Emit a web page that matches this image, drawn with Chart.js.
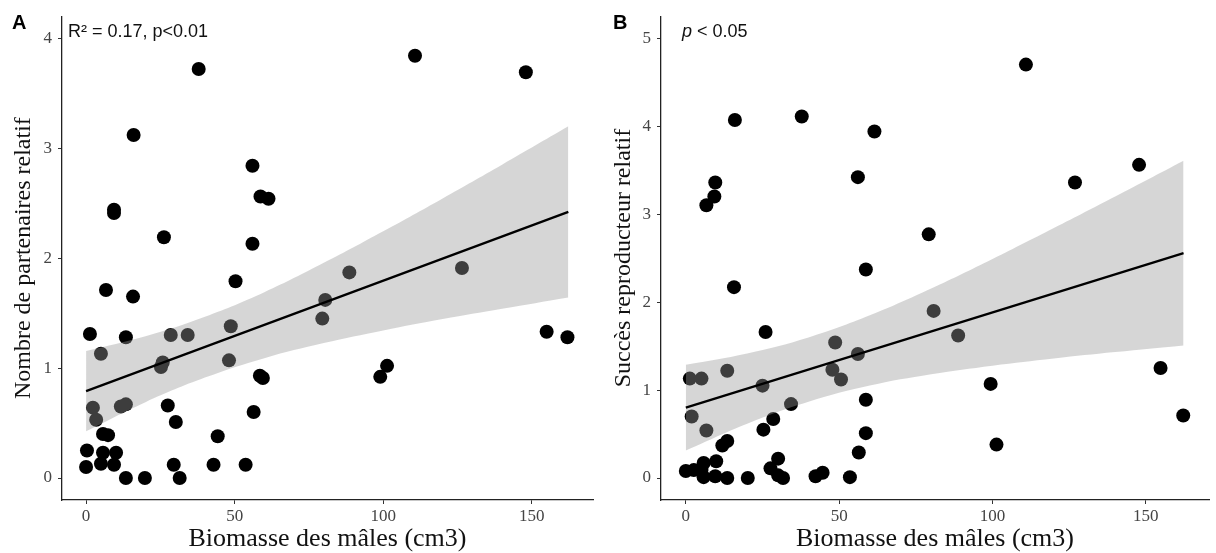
<!DOCTYPE html>
<html>
<head>
<meta charset="utf-8">
<script src="https://cdn.jsdelivr.net/npm/chart.js@4.4.1/dist/chart.umd.min.js"></script>
<style>
  html, body { margin: 0; padding: 0; background: #fff; }
  .wrap { position: relative; width: 1216px; height: 553px; }
  .panel { position: absolute; top: 0; width: 608px; height: 553px; }
</style>
</head>
<body>
<div class="wrap">
  <div class="panel" style="left:0"><canvas id="chartA" width="608" height="553"></canvas></div>
  <div class="panel" style="left:608px"><canvas id="chartB" width="608" height="553"></canvas></div>
</div>
<script>
// biomass (cm3) vs relative number of partners (A) and relative reproductive success (B)
const biomassA = [37.9, 16.0, 56.0, 58.7, 61.4, 9.4, 9.4, 26.2, 56.0, 50.3, 6.7, 15.8, 1.3, 13.4, 5.0, 28.5, 34.2,
  48.7, 48.1, 25.8, 25.2, 58.5, 59.5, 2.3, 11.7, 13.4, 3.4, 27.5, 30.2, 56.4, 5.7, 7.4, 44.3, 0.3, 5.7, 10.1,
  0.0, 5.0, 9.4, 29.5, 42.9, 53.7, 13.4, 19.8, 31.5, 110.7, 148.0, 88.6, 126.5, 80.5, 79.5, 101.3, 99.0, 155.0, 162.0];
const partners = [3.72, 3.12, 2.84, 2.56, 2.54, 2.44, 2.41, 2.19, 2.13, 1.79, 1.71, 1.65, 1.31, 1.28, 1.13, 1.30, 1.30,
  1.38, 1.07, 1.05, 1.01, 0.93, 0.91, 0.64, 0.65, 0.67, 0.53, 0.66, 0.51, 0.60, 0.40, 0.39, 0.38, 0.25, 0.23, 0.23,
  0.10, 0.13, 0.12, 0.12, 0.12, 0.12, 0.0, 0.0, 0.0, 3.84, 3.69, 1.87, 1.91, 1.62, 1.45, 1.02, 0.92, 1.33, 1.28];

const biomassB = [16.0, 37.8, 61.5, 56.1, 9.6, 9.3, 6.7, 58.7, 110.9, 147.8, 126.9, 79.2, 15.7, 26.0, 48.7, 56.1, 47.8,
  50.6, 13.5, 1.3, 5.1, 25.0, 34.3, 1.9, 28.5, 58.7, 6.7, 25.3, 58.7, 11.9, 13.5, 56.4, 9.9, 30.1, 0.0, 2.6, 5.8,
  5.1, 5.8, 9.6, 13.5, 20.2, 27.6, 30.1, 31.7, 42.3, 44.6, 53.5, 80.8, 88.8, 99.4, 101.3, 154.8, 162.2];
const success = [4.07, 4.11, 3.94, 3.42, 3.36, 3.20, 3.10, 2.37, 4.70, 3.56, 3.36, 2.77, 2.17, 1.66, 1.54, 1.41, 1.23,
  1.12, 1.22, 1.13, 1.13, 1.05, 0.84, 0.70, 0.67, 0.89, 0.54, 0.55, 0.51, 0.37, 0.42, 0.29, 0.19, 0.22, 0.08, 0.09, 0.17,
  0.09, 0.01, 0.02, 0.0, 0.0, 0.11, 0.03, 0.0, 0.02, 0.06, 0.01, 1.90, 1.62, 1.07, 0.38, 1.25, 0.71];

// fitted line and 95% band
const fitX = [0, 162.3];
const fitA = [0.79, 2.42];
const fitB = [0.80, 2.557];
const bandX = [0, 20, 40, 60, 80, 100, 120, 140, 162.3];
const bandLowA = [0.425, 0.69, 0.913, 1.09, 1.227, 1.342, 1.445, 1.539, 1.642];
const bandHighA = [1.155, 1.29, 1.467, 1.69, 1.957, 2.244, 2.543, 2.849, 3.198];
const bandLowB = [0.313, 0.618, 0.868, 1.051, 1.179, 1.277, 1.359, 1.432, 1.507];
const bandHighB = [1.287, 1.416, 1.598, 1.849, 2.153, 2.489, 2.841, 3.20, 3.607];

const xTicks = [0, 50, 100, 150];
const yTicksA = [0, 1, 2, 3, 4];
const yTicksB = [0, 1, 2, 3, 4, 5];

const serif = '"Liberation Serif", "Times New Roman", serif';
const sans = '"Liberation Sans", Arial, sans-serif';

const pts = (xs, ys) => xs.map((x, i) => ({ x, y: ys[i] }));

const panelText = {
  id: 'panelText',
  afterDatasetsDraw(chart, args, o) {
    const ctx = chart.ctx;
    ctx.save();
    ctx.fillStyle = '#000';
    ctx.textBaseline = 'alphabetic';
    ctx.font = 'bold 20px ' + sans;
    ctx.fillText(o.letter, o.letterX, 29);
    ctx.fillStyle = '#111';
    let x = o.noteX;
    if (o.italic) {
      ctx.font = 'italic 18px ' + sans;
      ctx.fillText(o.italic, x, 37);
      x += ctx.measureText(o.italic).width;
    }
    ctx.font = '18px ' + sans;
    ctx.fillText(o.note, x, 37);
    ctx.restore();
  }
};

function makePanel(id, p) {
  return new Chart(document.getElementById(id), {
    type: 'scatter',
    data: {
      datasets: [
        { type: 'line', data: pts(fitX, p.fit), borderColor: '#000', borderWidth: 2.3, pointRadius: 0, fill: false, order: 0 },
        { type: 'line', data: pts(bandX, p.high), borderColor: 'rgba(0,0,0,0)', borderWidth: 0, pointRadius: 0,
          tension: 0.4, fill: '+1', backgroundColor: 'rgba(153,153,153,0.4)', order: 1 },
        { type: 'line', data: pts(bandX, p.low), borderColor: 'rgba(0,0,0,0)', borderWidth: 0, pointRadius: 0,
          tension: 0.4, fill: false, order: 1 },
        { data: pts(p.xs, p.ys), backgroundColor: '#000', borderWidth: 0, pointRadius: 7, order: 2 },
      ],
    },
    options: {
      responsive: false,
      animation: false,
      events: [],
      layout: { padding: { top: 8, right: p.padRight, left: 0, bottom: 0 } },
      plugins: {
        legend: { display: false },
        tooltip: { enabled: false },
        panelText: p.text,
      },
      scales: {
        x: {
          type: 'linear', min: -8.1, max: 170.6,
          afterBuildTicks: (s) => { s.ticks = xTicks.map((v) => ({ value: v })); },
          afterFit: (s) => { s.height = 53; },
          grid: { drawOnChartArea: false, drawTicks: true, tickLength: 4, color: '#333' },
          border: { display: true, color: '#222', width: 1.3 },
          ticks: { color: '#444', font: { family: serif, size: 17 }, padding: 2, maxRotation: 0 },
          title: { display: true, text: 'Biomasse des mâles (cm3)', color: '#111',
            font: { family: serif, size: 26 }, padding: { top: 0, bottom: -2 } },
        },
        y: {
          type: 'linear', min: p.yMin, max: p.yMax,
          afterBuildTicks: (s) => { s.ticks = p.yTicks.map((v) => ({ value: v })); },
          afterFit: (s) => { s.width = p.axisW; },
          grid: { drawOnChartArea: false, drawTicks: true, tickLength: 4, color: '#333' },
          border: { display: true, color: '#222', width: 1.3 },
          ticks: { color: '#444', font: { family: serif, size: 17 }, padding: 6 },
          title: { display: true, text: p.yTitle, color: '#111',
            font: { family: serif, size: 24 }, padding: { top: p.titlePad, bottom: 0 } },
        },
      },
    },
    plugins: [panelText],
  });
}

makePanel('chartA', {
  xs: biomassA, ys: partners, fit: fitA, low: bandLowA, high: bandHighA,
  yMin: -0.2, yMax: 4.2, yTicks: yTicksA, axisW: 62, padRight: 15, titlePad: 9,
  yTitle: 'Nombre de partenaires relatif',
  text: { letter: 'A', letterX: 12, noteX: 68, note: 'R² = 0.17, p<0.01' },
});

makePanel('chartB', {
  xs: biomassB, ys: success, fit: fitB, low: bandLowB, high: bandHighB,
  yMin: -0.25, yMax: 5.25, yTicks: yTicksB, axisW: 53, padRight: 0, titlePad: 1,
  yTitle: 'Succès reproducteur relatif',
  text: { letter: 'B', letterX: 5, noteX: 74, italic: 'p', note: ' < 0.05' },
});
</script>
</body>
</html>
